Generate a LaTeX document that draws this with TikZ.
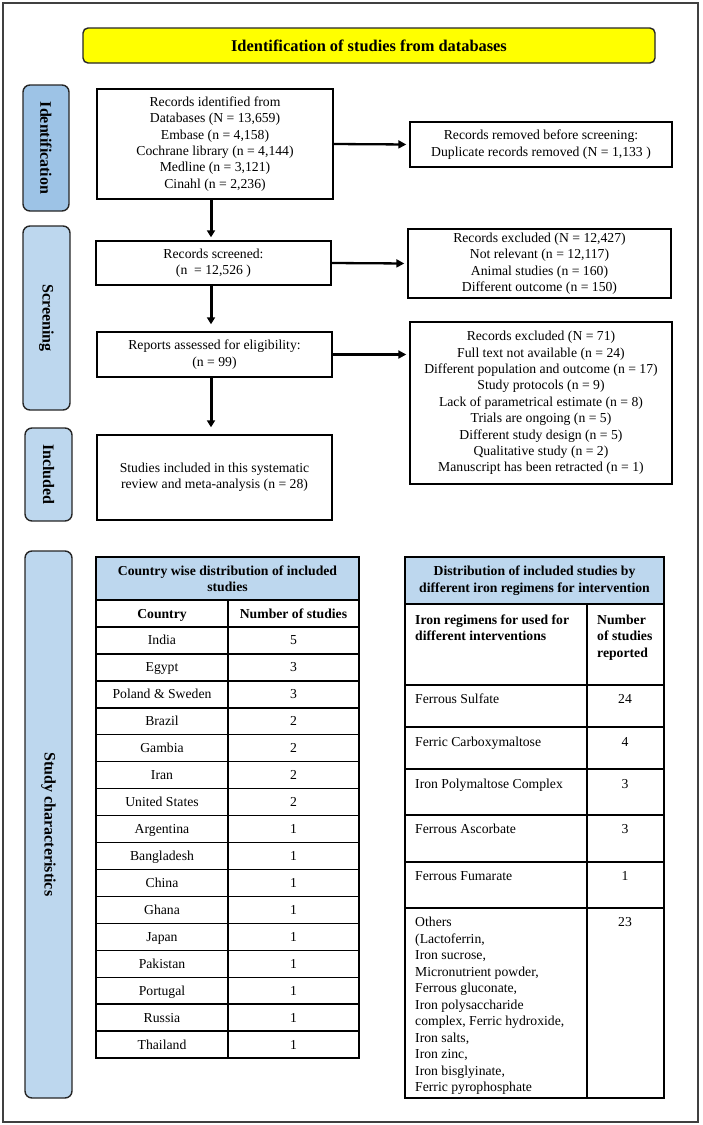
\documentclass[tikz,border=0pt]{standalone}
\usepackage{fontspec}
\setmainfont{Liberation Serif}
\usetikzlibrary{arrows.meta,calc}
\definecolor{lblue}{HTML}{BDD7EE}
\definecolor{mblue}{HTML}{9DC3E6}
\definecolor{ttlyellow}{HTML}{FFFF00}
\definecolor{edgegray}{HTML}{262626}
\definecolor{framegray}{HTML}{404040}
\begin{document}
\begin{tikzpicture}[x=1pt,y=-1pt,
  txt/.style={font=\fontsize{13.7}{16.4}\selectfont},
  btxt/.style={font=\fontsize{13.7}{16.4}\selectfont\bfseries},
  box/.style={draw=black,line width=1.4pt,fill=white,align=center,inner sep=0pt,txt},
  side/.style={draw=edgegray,line width=1.4pt,rounded corners=7pt,fill=lblue,inner sep=0pt,rotate=-90,font=\fontsize{16}{19}\selectfont\bfseries},
  flow/.style={line width=2.3pt,-{Triangle[length=8pt,width=8pt]},shorten >=3pt},
  vflow/.style={line width=3pt,-{Triangle[length=7pt,width=8pt]}},
  cell/.style={draw=black,line width=1.4pt,inner sep=0pt},
  hcell/.style={cell,fill=lblue,align=center,btxt},
  ctxt/.style={txt,anchor=base,inner sep=0pt},
  ltxt/.style={txt,anchor=base west,inner sep=0pt},
]
\useasboundingbox (0,0) rectangle (703,1125);
\node[draw=framegray,line width=1.5pt,minimum width=695pt,minimum height=1119pt,inner sep=0pt] (frame) at (350.5,562.5) {};

% title
\node[draw=edgegray,line width=1.4pt,fill=ttlyellow,rounded corners=5pt,minimum width=572pt,minimum height=35pt,inner sep=0pt,font=\fontsize{16.4}{19}\selectfont\bfseries] (title) at (369,45.5) {Identification of studies from databases};

% side labels
\node[side,fill=mblue,minimum width=126pt,minimum height=46pt] (idl) at (46,148) {Identification};
\node[side,minimum width=184pt,minimum height=47pt] (scl) at (46.5,318) {Screening};
\node[side,minimum width=93pt,minimum height=47pt] (inl) at (48.5,474.5) {Included};
\node[side,minimum width=547pt,minimum height=47pt] (stl) at (48.5,824.5) {Study characteristics};

% flow boxes
\node[box,minimum width=236pt,minimum height=110pt] (b1) at (215,144) {Records identified from\\Databases (N = 13,659)\\Embase (n = 4,158)\\Cochrane library (n = 4,144)\\Medline (n = 3,121)\\Cinahl (n = 2,236)};
\node[box,minimum width=262pt,minimum height=45pt] (rem) at (541,144.5) {Records removed before screening:\\Duplicate records removed (N = 1,133 )};
\node[box,minimum width=235pt,minimum height=44pt] (scr) at (213.5,263) {Records screened:\\(n~ = 12,526 )};
\node[box,minimum width=263pt,minimum height=69pt] (ex1) at (539.5,263.5) {Records excluded (N = 12,427)\\Not relevant (n = 12,117)\\Animal studies (n = 160)\\Different outcome (n = 150)};
\node[box,minimum width=235pt,minimum height=45pt] (rep) at (214.5,354.5) {Reports assessed for eligibility:\\(n = 99)};
\node[box,minimum width=262pt,minimum height=162pt] (ex2) at (541,403) {Records excluded (N = 71)\\Full text not available (n = 24)\\Different population and outcome (n = 17)\\Study protocols (n = 9)\\Lack of parametrical estimate (n = 8)\\Trials are ongoing (n = 5)\\Different study design (n = 5)\\Qualitative study (n = 2)\\Manuscript has been retracted (n = 1)};
\node[box,minimum width=235pt,minimum height=85pt] (inc) at (214.5,477.5) {Studies included in this systematic\\review and meta-analysis (n = 28)};

% arrows
\coordinate (vx) at (211,0);
\draw[flow] (b1.east) -- (rem.west);
\draw[flow] (scr.east) -- (ex1.west);
\draw[flow] (rep.east) -- (rep.east -| ex2.west);
\draw[vflow,shorten >=3pt] (b1.south -| vx) -- (scr.north -| vx);
\draw[vflow,shorten >=7pt] (scr.south -| vx) -- (rep.north -| vx);
\draw[vflow,shorten >=7pt] (rep.south -| vx) -- (inc.north -| vx);

% left table
\node[hcell,minimum width=263pt,minimum height=43pt] (lth) at (227.5,578.5) {Country wise distribution of included\\studies};
\node[cell,minimum width=132pt,minimum height=27pt] (lc0) at (162,613.5) {};
\node[cell,minimum width=131pt,minimum height=27pt] (ln0) at (293.5,613.5) {};
\node[btxt,anchor=base,inner sep=0pt] (lct0) at ($(lc0.center)+(0,4.5)$) {Country};
\node[btxt,anchor=base,inner sep=0pt] (lnt0) at ($(ln0.center)+(0,4.5)$) {Number of studies};
\foreach \c/\n [count=\i] in {India/5,Egypt/3,Poland \& Sweden/3,Brazil/2,Gambia/2,Iran/2,United States/2,Argentina/1,Bangladesh/1,China/1,Ghana/1,Japan/1,Pakistan/1,Portugal/1,Russia/1,Thailand/1}{
  \pgfmathsetmacro\yc{627+26.94*(\i-0.5)}
  \node[cell,minimum width=132pt,minimum height=26.94pt] (lc\i) at (162,\yc) {};
  \node[cell,minimum width=131pt,minimum height=26.94pt] (ln\i) at (293.5,\yc) {};
  \node[ctxt] (lct\i) at ($(lc\i.center)+(0,4.5)$) {\c};
  \node[ctxt] (lnt\i) at ($(ln\i.center)+(0,4.5)$) {\n};
}

% right table
\node[hcell,minimum width=259pt,minimum height=47pt] (rth) at (534.5,580.5) {Distribution of included studies by\\different iron regimens for intervention};
\node[cell,minimum width=182pt,minimum height=81pt] (rc0) at (496,644.5) {};
\node[cell,minimum width=77pt,minimum height=81pt] (rn0) at (625.5,644.5) {};
\node[btxt,anchor=north west,align=left,inner sep=0pt,font=\fontsize{13.7}{16.6}\selectfont\bfseries] (rct0) at (415,614.3) {Iron regimens for used for\\different interventions};
\node[btxt,anchor=north west,align=left,inner sep=0pt,font=\fontsize{13.7}{16.6}\selectfont\bfseries] (rnt0) at (597,614.3) {Number\\of studies\\reported};

\node[cell,minimum width=182pt,minimum height=42pt] (rc1) at (496,706) {};
\node[cell,minimum width=77pt,minimum height=42pt] (rn1) at (625.5,706) {};
\node[ltxt] (rct1) at (415,703.5) {Ferrous Sulfate};
\node[ctxt] (rnt1) at (625,703.5) {24};

\node[cell,minimum width=182pt,minimum height=42pt] (rc2) at (496,748) {};
\node[cell,minimum width=77pt,minimum height=42pt] (rn2) at (625.5,748) {};
\node[ltxt] (rct2) at (415,746.5) {Ferric Carboxymaltose};
\node[ctxt] (rnt2) at (625,746.5) {4};

\node[cell,minimum width=182pt,minimum height=46pt] (rc3) at (496,792) {};
\node[cell,minimum width=77pt,minimum height=46pt] (rn3) at (625.5,792) {};
\node[ltxt] (rct3) at (415,788.5) {Iron Polymaltose Complex};
\node[ctxt] (rnt3) at (625,788.5) {3};

\node[cell,minimum width=182pt,minimum height=47pt] (rc4) at (496,838.5) {};
\node[cell,minimum width=77pt,minimum height=47pt] (rn4) at (625.5,838.5) {};
\node[ltxt] (rct4) at (415,833.5) {Ferrous Ascorbate};
\node[ctxt] (rnt4) at (625,833.5) {3};

\node[cell,minimum width=182pt,minimum height=46pt] (rc5) at (496,885) {};
\node[cell,minimum width=77pt,minimum height=46pt] (rn5) at (625.5,885) {};
\node[ltxt] (rct5) at (415,880.5) {Ferrous Fumarate};
\node[ctxt] (rnt5) at (625,880.5) {1};

\node[cell,minimum width=182pt,minimum height=190pt] (rc6) at (496,1003) {};
\node[cell,minimum width=77pt,minimum height=190pt] (rn6) at (625.5,1003) {};
\node[txt,anchor=north west,align=left,inner sep=0pt,font=\fontsize{13.7}{16.5}\selectfont] (rct6) at (415,917.1) {Others\\(Lactoferrin,\\Iron sucrose,\\Micronutrient powder,\\Ferrous gluconate,\\Iron polysaccharide\\complex, Ferric hydroxide,\\Iron salts,\\Iron zinc,\\Iron bisglyinate,\\Ferric pyrophosphate};
\node[ctxt] (rnt6) at (625,926.5) {23};
\end{tikzpicture}
\end{document}
